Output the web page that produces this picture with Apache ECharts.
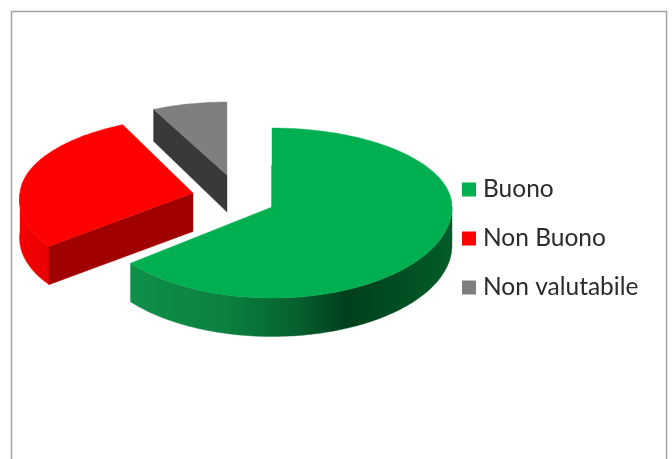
<!DOCTYPE html>
<html><head><meta charset="utf-8">
<style>html,body{margin:0;padding:0;background:#fff}#c{width:672px;height:459px}</style>
<script src="https://cdn.jsdelivr.net/npm/echarts@6/dist/echarts.min.js"></script>
</head><body><div id="c"></div>
<script>
const categories = ['Buono', 'Non Buono', 'Non valutabile'];
const values = [64.4, 28.4, 7.2];
const colors = ['#00b050', '#ff0000', '#7f7f7f'];

// Projection of each exploded slice (layout only)
const slicePlacement = [
  { cx: 272, cy: 207, rx: 180, back: 79, front: 91, shearBack: 0, shearFront: 0 },
  { cx: 193, cy: 193, rx: 173, back: 76, front: 86, shearBack: -0.08, shearFront: -0.15 },
  { cx: 227, cy: 175, rx: 168, back: 73, front: 91, shearBack: 0, shearFront: 0 }
];
const total = values.reduce((a, b) => a + b, 0);
function sliceAngles(i) {
  const before = values.slice(0, i).reduce((a, b) => a + b, 0);
  return [before / total * 2 * Math.PI, (before + values[i]) / total * 2 * Math.PI];
}
function depthAt(y) { return Math.min(38.5, 32 + Math.max(0, y - 111) * 0.08); }
function rimPoint(p, t) {
  const c = Math.cos(t);
  const dy = c > 0 ? -p.back * c : -p.front * c;
  const shear = c > 0 ? p.shearBack : p.shearFront;
  return [p.cx + p.rx * Math.sin(t) + shear * dy, p.cy + dy];
}
function arc(p, a, b) {
  const n = Math.max(2, Math.ceil(Math.abs(b - a) / 0.02));
  const pts = [];
  for (let k = 0; k <= n; k++) pts.push(rimPoint(p, a + (b - a) * k / n));
  return pts;
}
function down(pt) { return [pt[0], pt[1] + depthAt(pt[1])]; }
function face(points, fill) {
  return { type: 'polygon', shape: { points }, style: { fill, stroke: fill, lineWidth: 0.4 } };
}
function greenRim() {
  return new echarts.graphic.LinearGradient(0, 0, 1, 0, [
    { offset: 0, color: '#0e9049' }, { offset: 0.3, color: '#0a8040' },
    { offset: 0.52, color: '#06602f' }, { offset: 0.67, color: '#003f1c' },
    { offset: 1, color: '#015c28' }
  ]);
}
function redRim() {
  return new echarts.graphic.LinearGradient(0, 0, 1, 0, [
    { offset: 0, color: '#f60000' }, { offset: 1, color: '#e80000' }
  ]);
}
function renderSlice(i) {
  return function () {
    const p = slicePlacement[i];
    const [a, b] = sliceAngles(i);
    const tip = [p.cx, p.cy];
    const children = [];
    const startPt = rimPoint(p, a);
    const outerFront = (lo, hi) => {
      const top = arc(p, lo, hi);
      return top.concat(top.map(down).reverse());
    };
    if (i === 0) {
      children.push(face(outerFront(Math.PI / 2, b), greenRim()));
      children.push({ type: 'line', shape: { x1: p.cx, y1: p.cy - 42, x2: p.cx, y2: p.cy }, style: { stroke: '#1f5f38', lineWidth: 1 } });
    }
    if (i === 1) {
      children.push(face(outerFront(a, 1.5 * Math.PI), redRim()));
      children.push(face([tip, startPt, down(startPt), down(tip)], '#a00000'));
    }
    if (i === 2) {
      children.push(face([tip, startPt, down(startPt), down(tip)], '#393939'));
    }
    children.push(face([tip].concat(arc(p, a, b)), colors[i]));
    return { type: 'group', children };
  };
}
const chart = echarts.init(document.getElementById('c'), null, { renderer: 'canvas' });
chart.setOption({
  animation: false,
  backgroundColor: '#ffffff',
  graphic: [{
    type: 'rect', silent: true, z: 0,
    shape: { x: 11.5, y: 11.5, width: 655, height: 470 },
    style: { fill: '#fff', stroke: '#a3a3a3', lineWidth: 1.5 }
  }],
  legend: {
    data: categories,
    orient: 'vertical', left: 462, top: 177, padding: 0,
    icon: 'rect', itemWidth: 14, itemHeight: 14, itemGap: 24,
    selectedMode: false,
    textStyle: { fontFamily: 'Lato', fontSize: 24.5, color: '#2b2b2b', padding: [0, 0, 0, 2] }
  },
  series: categories.map((name, i) => ({
    type: 'custom', name, coordinateSystem: 'none', silent: true, z: 3,
    itemStyle: { color: colors[i] },
    renderItem: renderSlice(i),
    data: [[values[i]]]
  }))
});
</script></body></html>
